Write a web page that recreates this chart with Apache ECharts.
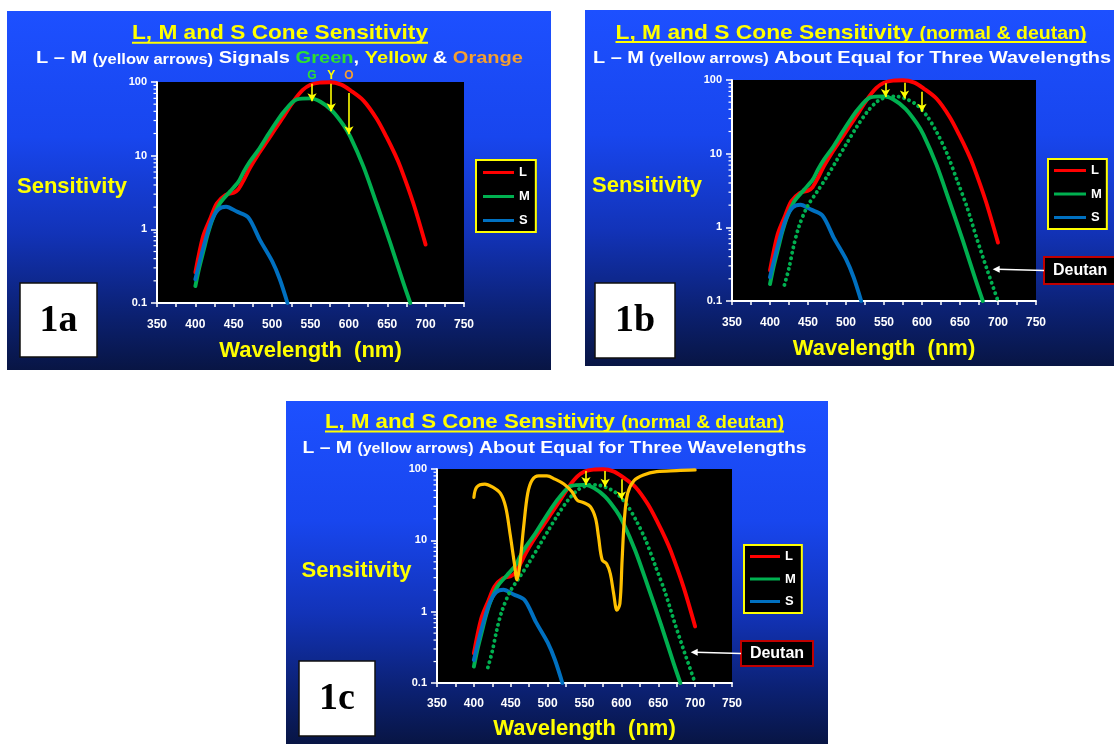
<!DOCTYPE html>
<html>
<head>
<meta charset="utf-8">
<script src="https://cdn.jsdelivr.net/npm/echarts@6/dist/echarts.min.js"></script>
<style>
html,body{margin:0;padding:0;background:#ffffff;}
#c{width:1114px;height:744px;}
</style>
</head>
<body>
<div id="c"></div>
<script>
// ---------------- DATA ----------------
const lWave = [400, 410, 420, 428, 439, 450, 456, 463, 471, 482, 493, 504, 515, 528, 540, 550, 562, 575, 590, 602, 619, 636, 649, 660, 667, 684, 700];
const lSens = [0.26, 0.8, 1.45, 2.25, 2.92, 3.15, 3.5, 4.67, 6.8, 10.5, 15.5, 23, 34, 55, 78, 92, 98, 99, 92, 77, 56, 32, 18, 10.5, 7.1, 2.26, 0.62];

const mWave = [400, 405, 411, 416, 422, 432, 445, 456, 463, 471, 482, 493, 504, 515, 532, 550, 563, 578, 593, 602, 619, 636, 654, 671, 680];
const mSens = [0.17, 0.3, 0.53, 0.85, 1.34, 2.26, 3.25, 4.4, 6.05, 8.3, 11.9, 18, 27, 39, 58, 60, 54, 41, 26, 18, 7.1, 2.26, 0.65, 0.187, 0.1];

const sWave = [400, 410, 421, 430, 440, 454, 469, 484, 500, 510, 520];
const sSens = [0.21, 0.55, 1.3, 1.87, 2.03, 1.74, 1.45, 0.72, 0.37, 0.21, 0.1];

const deutanWave = [419, 425, 431, 438, 449, 462, 475, 488, 501, 514, 528, 541, 554, 565, 578, 593, 607, 620, 633, 646, 659, 672, 686, 700];
const deutanSens = [0.165, 0.28, 0.55, 1.02, 1.91, 3.05, 4.9, 8.2, 13.8, 23, 37, 51, 59, 60, 56, 46, 32, 19, 10, 4.4, 1.91, 0.71, 0.26, 0.1];

const filterWave = [400, 404, 415, 425, 436, 443, 449, 455, 458.5, 462, 467.5, 473, 479, 488, 499, 510, 522, 533, 540, 549, 558, 565, 569, 574, 580, 585, 589.5, 594, 598, 601, 604, 608.5, 617, 630, 648, 675, 700];
const filterSens = [40, 56, 61.5, 56, 45.5, 29.6, 12.5, 4.7, 2.8, 4.3, 15.5, 45.5, 70, 80, 80, 72, 61.5, 48, 36.7, 33.7, 29.6, 20.3, 11.2, 5.3, 4.7, 3.4, 1.8, 1.05, 1.3, 5.3, 19.2, 45.5, 68.6, 82.4, 91.8, 95, 97];

// yellow L-M arrows (wavelength, start value on L, end value on M)
const arrowWaveA = [552, 577, 600];
const arrowFromA = [95, 95, 71];
const arrowToA   = [55, 40, 19.6];
const arrowLetters = ['G', 'Y', 'O'];
const arrowWaveB = [552, 577, 600];
const arrowFromB = [90, 92, 69.5];
const arrowToB   = [59, 56, 37];
const arrowWaveC = [552, 578, 600];
const arrowFromC = [94, 94, 71.6];
const arrowToC   = [59.6, 56.5, 37.5];

// point the "Deutan" pointer aims at
const deutanPointerB = [693, 0.27];
const deutanPointerC = [694, 0.27];

// axis tick values
const xMin = 350, xMax = 750, xStep = 50;
const yMinorTicks = [0.2,0.3,0.4,0.5,0.6,0.7,0.8,0.9,2,3,4,5,6,7,8,9,20,30,40,50,60,70,80,90];
const legendNames = ['L', 'M', 'S'];

// ---------------- STYLE / LAYOUT ----------------
const FONT = '"Liberation Sans", Arial, Helvetica, sans-serif';
const SERIF = '"Liberation Serif", "Times New Roman", serif';
const C_L = '#ff0000', C_M = '#00b050', C_S = '#0070c0', C_F = '#ffc000', YEL = '#ffff00';

const panels = [
  { bg: [7, 11, 544, 359], grid: { left: 157, top: 82, width: 307, height: 221 },
    title: { cx: 280, base: 40, w: 296, ul: 42.7, parts: [['L, M and S Cone Sensitivity', 21, YEL]] },
    sub: { cx: 279.5, base: 64, w: 487, parts: [['L \u2013 M ', 17, '#fff'], ['(yellow arrows)', 14, '#fff'], [' Signals ', 17, '#fff'], ['Green', 17, '#2fe02f'], [', ', 17, '#fff'], ['Yellow', 17, YEL], [' & ', 17, '#fff'], ['Orange', 17, '#f5a030']] },
    sens: { x: 17, base: 193.3 }, box: [20, 283, 77, 74], boxText: '1a',
    legend: { left: 476, top: 160, padding: [6, 6, 5, 7], gap: 11, iw: 31 },
    labelMargin: 16, nameGap: 36.5 },
  { bg: [585, 10, 535, 356], grid: { left: 732, top: 80, width: 304, height: 221 },
    title: { cx: 851, base: 39.3, w: 471, ul: 41.9, parts: [['L, M and S Cone Sensitivity ', 21, YEL], ['(normal & deutan)', 18, YEL]] },
    sub: { cx: 852, base: 63.5, w: 518, parts: [['L \u2013 M ', 17, '#fff'], ['(yellow arrows)', 14, '#fff'], [' About Equal for Three Wavelengths', 17, '#fff']] },
    sens: { x: 592, base: 192.7 }, box: [595, 283, 80, 75], boxText: '1b',
    legend: { left: 1048, top: 159, padding: [5, 5, 5, 6], gap: 10.5, iw: 32 },
    deutan: { box: [1044, 257, 90, 27], textX: 1053 },
    labelMargin: 16, nameGap: 37 },
  { bg: [286, 401, 542, 343], grid: { left: 437, top: 469, width: 295, height: 214 },
    title: { cx: 554.5, base: 428.5, w: 459, ul: 431.5, parts: [['L, M and S Cone Sensitivity ', 21, YEL], ['(normal & deutan)', 18, YEL]] },
    sub: { cx: 554.5, base: 453.5, w: 504, parts: [['L \u2013 M ', 17, '#fff'], ['(yellow arrows)', 14, '#fff'], [' About Equal for Three Wavelengths', 17, '#fff']] },
    sens: { x: 301.5, base: 577.7 }, box: [299, 661, 76, 75], boxText: '1c',
    legend: { left: 744, top: 545, padding: [5, 6, 5, 6], gap: 9.5, iw: 30 },
    deutan: { box: [741, 641, 72, 25], textX: null },
    labelMargin: 15, nameGap: 35 }
];

// ---------------- HELPERS ----------------
const zip = (a, b) => a.map((x, i) => [x, b[i]]);
const mctx = document.createElement('canvas').getContext('2d');
function tw(text, size, weight) { mctx.font = (weight || 'bold') + ' ' + size + 'px ' + FONT; return mctx.measureText(text).width; }

function arrowMarkLine(waves, from, to) {
  return {
    silent: true, animation: false,
    symbol: ['none', 'arrow'], symbolSize: [7, 8],
    label: { show: false },
    emphasis: { disabled: true },
    lineStyle: { color: YEL, width: 1.6, type: 'solid', opacity: 1 },
    data: waves.map((w, i) => [{ coord: [w, from[i]] }, { coord: [w, to[i]] }])
  };
}

function lineSeries(name, gi, data, color, width, extra) {
  return Object.assign({
    name: name, type: 'line', xAxisIndex: gi, yAxisIndex: gi, data: data,
    smooth: 0.3, symbol: 'none', showSymbol: false, animation: false, silent: true,
    lineStyle: { color: color, width: width, cap: 'round', join: 'round' },
    itemStyle: { color: color }, emphasis: { disabled: true }
  }, extra || {});
}

function minorTickSeries(gi) {
  return {
    type: 'custom', xAxisIndex: gi, yAxisIndex: gi, silent: true, animation: false, clip: false,
    data: yMinorTicks.map(v => [xMin, v]),
    renderItem: function (params, api) {
      const p = api.coord([api.value(0), api.value(1)]);
      return { type: 'line', shape: { x1: p[0] - 3.5, y1: p[1], x2: p[0] - 1, y2: p[1] }, style: { stroke: '#ffffff', lineWidth: 1.2 } };
    }
  };
}

// ---------------- OPTION ----------------
const grids = [], xAxes = [], yAxes = [], legends = [], series = [];
panels.forEach((p, gi) => {
  grids.push(Object.assign({ show: true, backgroundColor: '#000000', borderWidth: 0, containLabel: false }, p.grid));
  xAxes.push({
    type: 'value', gridIndex: gi, min: xMin, max: xMax, interval: xStep,
    axisLine: { show: true, onZero: false, lineStyle: { color: '#ffffff', width: 2 } },
    axisTick: { show: true, length: 4, lineStyle: { color: '#ffffff', width: 1.5 } },
    minorTick: { show: true, splitNumber: 2, length: 4, lineStyle: { color: '#ffffff', width: 1.5 } },
    splitLine: { show: false }, minorSplitLine: { show: false },
    axisLabel: { color: '#ffffff', fontSize: 12, fontWeight: 'bold', fontFamily: FONT, margin: p.labelMargin, showMinLabel: true, showMaxLabel: true },
    name: 'Wavelength  (nm)', nameLocation: 'middle', nameGap: p.nameGap,
    nameTextStyle: { color: YEL, fontSize: 22, fontWeight: 'bold', fontFamily: FONT }
  });
  yAxes.push({
    type: 'log', logBase: 10, gridIndex: gi, min: 0.1, max: 100,
    axisLine: { show: true, onZero: false, lineStyle: { color: '#ffffff', width: 2 } },
    axisTick: { show: true, length: 6, lineStyle: { color: '#ffffff', width: 1.5 } },
    splitLine: { show: false },
    axisLabel: { color: '#ffffff', fontSize: 11, fontWeight: 'bold', fontFamily: FONT, margin: 10,
      formatter: v => String(+(+v).toPrecision(3)) }
  });
  legends.push({
    show: true, orient: 'vertical', left: p.legend.left, top: p.legend.top,
    backgroundColor: '#000000', borderColor: YEL, borderWidth: 2, borderRadius: 0,
    padding: p.legend.padding, itemGap: p.legend.gap, itemWidth: p.legend.iw, itemHeight: 3,
    icon: 'rect', selectedMode: false, data: legendNames,
    textStyle: { color: '#ffffff', fontSize: 13, fontWeight: 'bold', fontFamily: FONT, lineHeight: 13 }
  });

  series.push(minorTickSeries(gi));
  const isC = gi === 2;
  series.push(lineSeries('L', gi, zip(lWave, lSens), C_L, 3.9, { z: 3 }));
  series.push(lineSeries('M', gi, zip(mWave, mSens), C_M, 3.9, { z: 3 }));
  series.push(lineSeries('S', gi, zip(sWave, sSens), C_S, 3.9, { z: 3 }));
  if (gi > 0) {
    series.push(lineSeries('Deutan M', gi, zip(deutanWave, deutanSens), C_M, 3.9, {
      z: 3, lineStyle: { color: C_M, width: 3.9, type: [0.1, 5.4], cap: 'round' }
    }));
  }
  if (isC) {
    series.push(lineSeries('Filter', gi, zip(filterWave, filterSens), C_F, 3.2, { z: 3, smooth: 0.35 }));
  }
  const ml = gi === 0 ? arrowMarkLine(arrowWaveA, arrowFromA, arrowToA)
           : gi === 1 ? arrowMarkLine(arrowWaveB, arrowFromB, arrowToB)
           : arrowMarkLine(arrowWaveC, arrowFromC, arrowToC);
  series.push({ name: 'arrows', type: 'line', xAxisIndex: gi, yAxisIndex: gi, data: [], silent: true, animation: false, z: 6, markLine: ml });
});

const option = {
  animation: false,
  backgroundColor: '#ffffff',
  textStyle: { fontFamily: FONT },
  grid: grids, xAxis: xAxes, yAxis: yAxes, legend: legends, series: series
};

const chart = echarts.init(document.getElementById('c'), null, { renderer: 'canvas', width: 1114, height: 744 });
chart.setOption(option);

// ---------------- ANNOTATIONS (graphic) ----------------
const gfx = [];
function textLine(parts, cx, base, targetW) {
  const widths = parts.map(pt => tw(pt[0], pt[1]));
  const nat = widths.reduce((a, b) => a + b, 0);
  const s = targetW / nat;
  let x = cx - targetW / 2;
  parts.forEach((pt, i) => {
    gfx.push({ type: 'text', x: x, y: base - 0.31 * pt[1], scaleX: s, z: 100, silent: true,
      style: { text: pt[0], fill: pt[2], font: 'bold ' + pt[1] + 'px ' + FONT, textAlign: 'left', textVerticalAlign: 'middle' } });
    x += widths[i] * s;
  });
}
const bgGrad = { type: 'linear', x: 0, y: 0, x2: 0, y2: 1, colorStops: [
  { offset: 0, color: '#1d50ff' }, { offset: 0.35, color: '#1846ee' }, { offset: 0.62, color: '#1233b8' },
  { offset: 0.85, color: '#0b2070' }, { offset: 1, color: '#081544' } ] };

panels.forEach((p, gi) => {
  gfx.push({ type: 'rect', z: -10, silent: true, shape: { x: p.bg[0], y: p.bg[1], width: p.bg[2], height: p.bg[3] }, style: { fill: bgGrad } });
  // titles
  textLine(p.title.parts, p.title.cx, p.title.base, p.title.w);
  gfx.push({ type: 'line', z: 100, silent: true, shape: { x1: p.title.cx - p.title.w / 2, y1: p.title.ul, x2: p.title.cx + p.title.w / 2, y2: p.title.ul }, style: { stroke: YEL, lineWidth: 2 } });
  textLine(p.sub.parts, p.sub.cx, p.sub.base, p.sub.w);
  // y-axis title
  gfx.push({ type: 'text', z: 100, silent: true, x: p.sens.x, y: p.sens.base - 0.31 * 22,
    style: { text: 'Sensitivity', fill: YEL, font: 'bold 22px ' + FONT, textAlign: 'left', textVerticalAlign: 'middle' } });
  // panel label box
  gfx.push({ type: 'rect', z: 100, silent: true, shape: { x: p.box[0], y: p.box[1], width: p.box[2], height: p.box[3] }, style: { fill: '#ffffff', stroke: '#111111', lineWidth: 1.5 } });
  gfx.push({ type: 'text', z: 101, silent: true, x: p.box[0] + p.box[2] / 2, y: p.box[1] + p.box[3] / 2 + 1,
    style: { text: p.boxText, fill: '#000000', font: 'bold 38px ' + SERIF, textAlign: 'center', textVerticalAlign: 'middle' } });
  // Deutan pointer
  if (p.deutan) {
    const b = p.deutan.box;
    gfx.push({ type: 'rect', z: 100, silent: true, shape: { x: b[0], y: b[1], width: b[2], height: b[3] }, style: { fill: '#000000', stroke: '#c00000', lineWidth: 2 } });
    const tx = p.deutan.textX == null ? b[0] + b[2] / 2 : p.deutan.textX;
    gfx.push({ type: 'text', z: 101, silent: true, x: tx, y: b[1] + b[3] / 2 + 0.5,
      style: { text: 'Deutan', fill: '#ffffff', font: 'bold 16px ' + FONT, textAlign: p.deutan.textX == null ? 'center' : 'left', textVerticalAlign: 'middle' } });
    const tip = chart.convertToPixel({ gridIndex: gi }, gi === 1 ? deutanPointerB : deutanPointerC);
    const ty = b[1] + b[3] / 2;
    gfx.push({ type: 'line', z: 100, silent: true, shape: { x1: tip[0] + 5, y1: tip[1], x2: b[0], y2: ty }, style: { stroke: '#ffffff', lineWidth: 1.6 } });
    gfx.push({ type: 'polygon', z: 100, silent: true, shape: { points: [[tip[0], tip[1]], [tip[0] + 7, tip[1] - 3.5], [tip[0] + 7, tip[1] + 3.5]] }, style: { fill: '#ffffff' } });
  }
});
// G / Y / O letters above the 1a arrows
const letterColors = ['#2fe02f', YEL, '#f5a030'];
arrowWaveA.forEach((w, i) => {
  const pt = chart.convertToPixel({ gridIndex: 0 }, [w, 100]);
  gfx.push({ type: 'text', z: 100, silent: true, x: pt[0], y: pt[1] - 6,
    style: { text: arrowLetters[i], fill: letterColors[i], font: 'bold 12px ' + FONT, textAlign: 'center', textVerticalAlign: 'middle' } });
});

chart.setOption({ graphic: { elements: gfx } });
</script>
</body>
</html>
